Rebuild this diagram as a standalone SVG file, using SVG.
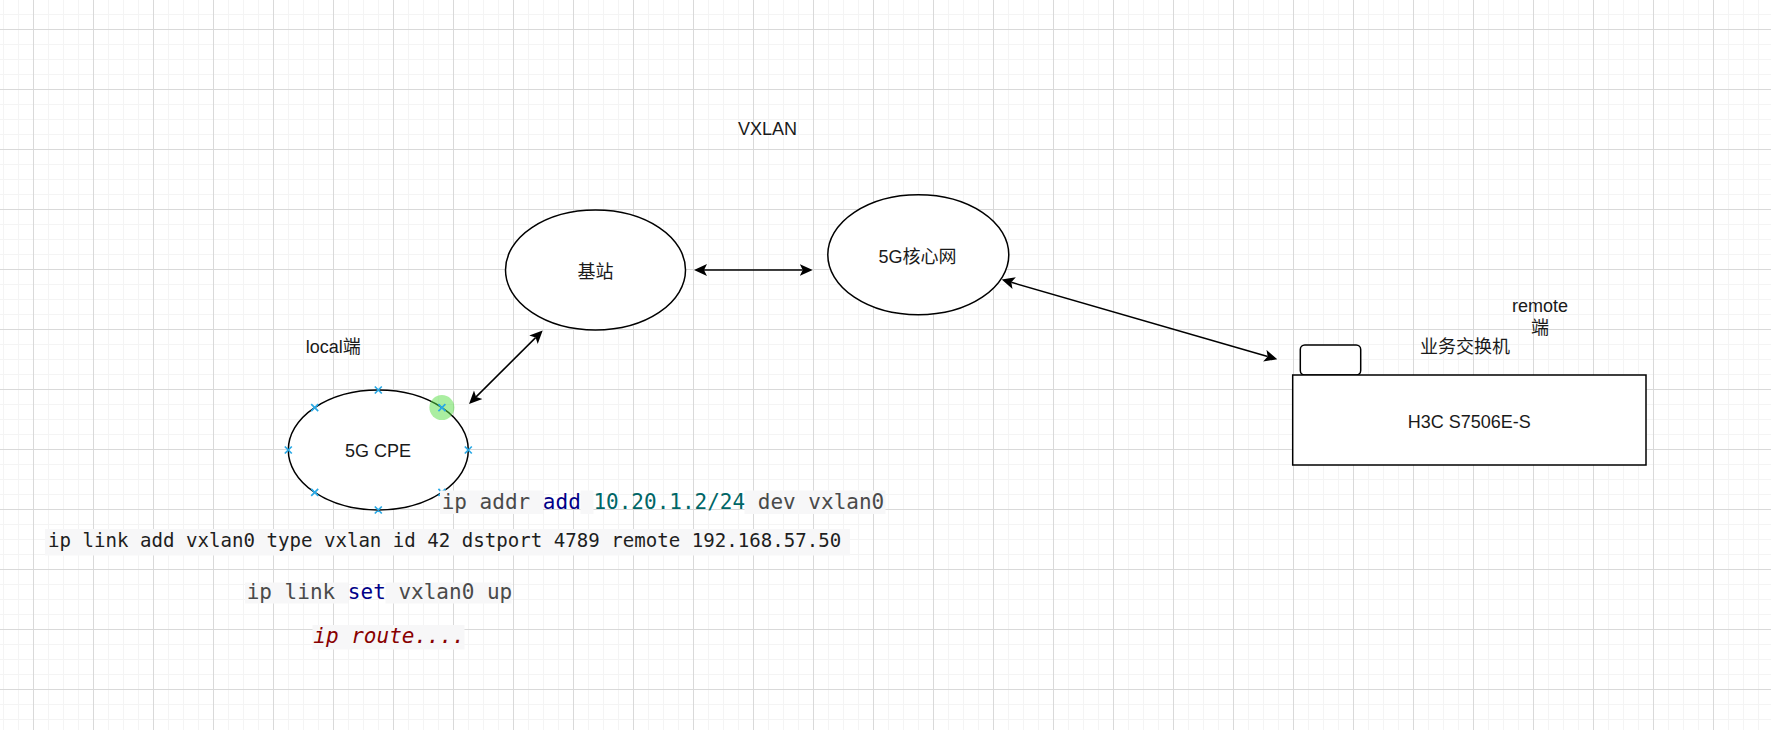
<svg xmlns="http://www.w3.org/2000/svg" width="1771" height="730" viewBox="0 0 1771 730">
  <defs>
    <pattern id="gridMinor" patternUnits="userSpaceOnUse" x="3" y="14" width="15" height="15">
      <path d="M0.5,0 V15 M0,0.5 H15" stroke="#f4f4f4" stroke-width="1" fill="none"/>
    </pattern>
    <pattern id="gridMajor" patternUnits="userSpaceOnUse" x="33" y="29" width="60" height="60">
      <path d="M0.5,0 V60 M0,0.5 H60" stroke="#d9d9d9" stroke-width="1" fill="none"/>
    </pattern>
    <marker id="arrow" markerUnits="userSpaceOnUse" viewBox="0 0 13 13" markerWidth="13" markerHeight="13" refX="3" refY="6.5" orient="auto-start-reverse">
      <path d="M0,0.5 L13,6.5 L0,12.5 L3,6.5 Z" fill="#000"/>
    </marker>
    <style>
      .shape { fill: #fff; stroke: #000; stroke-width: 1.5; }
      .label { font-family: "Liberation Sans", Arial, "Noto Sans CJK SC", sans-serif; font-size: 18px; fill: #1a1a1a; text-anchor: middle; }
      .free { font-family: "Liberation Sans", Arial, "Noto Sans CJK SC", sans-serif; font-size: 18px; fill: #1a1a1a; text-anchor: middle; }
      .edge { fill: none; stroke: #000; stroke-width: 1.5; marker-start: url(#arrow); marker-end: url(#arrow); }
      .pt { stroke: #29a9e6; stroke-width: 1.7; fill: none; }
      .code { font-family: "DejaVu Sans Mono", "Liberation Mono", monospace; font-size: 21px; fill: #4a4a4a; }
      .codeB { font-family: "DejaVu Sans Mono", "Liberation Mono", monospace; font-size: 19.1px; fill: #1e1e1e; }
      .kw { fill: #000088; }
      .num { fill: #006666; }
      .cmt { fill: #880000; font-style: italic; }
      .cbg { fill: #f7f7f8; }
    </style>
  </defs>

  <rect x="0" y="0" width="1771" height="730" fill="#fff"/>
  <rect x="0" y="0" width="1771" height="730" fill="url(#gridMinor)"/>
  <rect x="0" y="0" width="1771" height="730" fill="url(#gridMajor)"/>

  <g id="connectors">
    <path class="edge" d="M476.1,396.9 L535.6,337.6"/>
    <path class="edge" d="M704,270 L802.7,270"/>
    <path class="edge" d="M1011.3,282.3 L1267.7,356.5"/>
  </g>

  <g id="cpe">
    <ellipse class="shape" cx="378.3" cy="450" rx="90" ry="60"/>
    <text class="label" x="378" y="457">5G CPE</text>
    <circle cx="441.9" cy="407.6" r="12.5" fill="#55dd44" fill-opacity="0.5"/>
    <path class="pt" d="M374.8,386.5 l7,7 m0,-7 l-7,7 M311.2,404.1 l7,7 m0,-7 l-7,7 M438.4,404.1 l7,7 m0,-7 l-7,7 M284.8,446.5 l7,7 m0,-7 l-7,7 M464.8,446.5 l7,7 m0,-7 l-7,7 M311.2,488.9 l7,7 m0,-7 l-7,7 M438.4,488.9 l7,7 m0,-7 l-7,7 M374.8,506.5 l7,7 m0,-7 l-7,7"/>
  </g>

  <g id="jizhan">
    <ellipse class="shape" cx="595.5" cy="270" rx="90" ry="60"/>
    <text class="label" x="595.5" y="277.5">基站</text>
  </g>

  <g id="core">
    <ellipse class="shape" cx="918.3" cy="254.7" rx="90.5" ry="60"/>
    <text class="label" x="917.5" y="262.5">5G核心网</text>
  </g>

  <g id="switch">
    <rect class="shape" x="1300.3" y="345" width="60.4" height="30" rx="4.5" ry="4.5"/>
    <rect class="shape" x="1292.7" y="375" width="353.3" height="90"/>
    <text class="label" x="1469.3" y="428">H3C S7506E-S</text>
  </g>

  <g id="label-switch">
    <text class="free" x="1465" y="352.8">业务交换机</text>
  </g>
  <g id="label-remote">
    <text class="free" x="1540" y="311.5">remote</text>
    <text class="free" x="1540" y="334">端</text>
  </g>
  <g id="label-local">
    <text class="free" x="333.3" y="352.7">local端</text>
  </g>
  <g id="label-vxlan">
    <text class="free" x="767.5" y="135">VXLAN</text>
  </g>

  <g id="code-addr">
    <rect class="cbg" x="440" y="490.5" width="103" height="23.5"/>
    <rect class="cbg" x="580.5" y="490.5" width="13" height="23.5"/>
    <rect class="cbg" x="744.5" y="490.5" width="141" height="23.5"/>
    <text class="code" x="441.7" y="509.3">ip addr <tspan class="kw">add</tspan> <tspan class="num">10.20.1.2/24</tspan> dev vxlan0</text>
  </g>
  <g id="code-link">
    <rect class="cbg" x="45" y="529" width="805" height="26.5"/>
    <text class="codeB" x="48" y="546.7">ip link add vxlan0 type vxlan id 42 dstport 4789 remote 192.168.57.50</text>
  </g>
  <g id="code-up">
    <rect class="cbg" x="245" y="582.5" width="103" height="21"/>
    <rect class="cbg" x="385.5" y="582.5" width="126" height="21"/>
    <text class="code" x="246.7" y="599.3">ip link <tspan class="kw">set</tspan> vxlan0 up</text>
  </g>
  <g id="code-route">
    <rect class="cbg" x="312.5" y="625" width="152" height="24.5"/>
    <text class="code" x="313.3" y="643"><tspan class="cmt">ip route....</tspan></text>
  </g>
</svg>
